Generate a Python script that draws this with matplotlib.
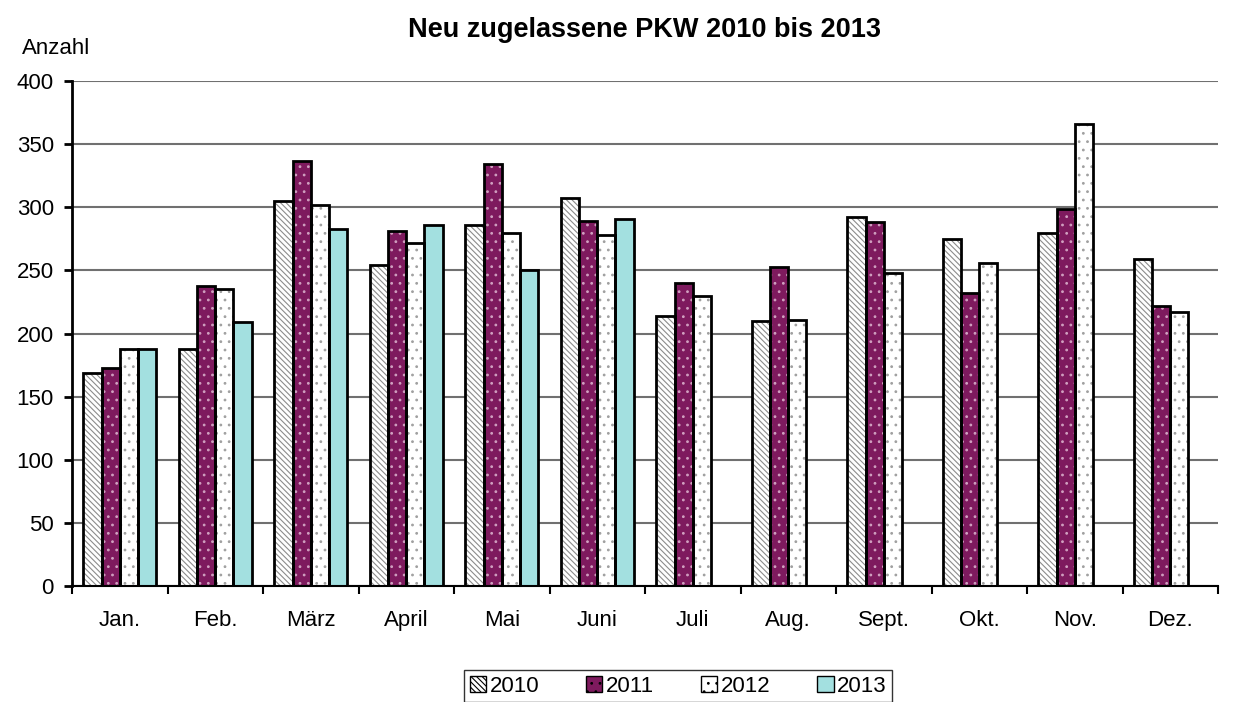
import numpy as np
import matplotlib
matplotlib.use("Agg")
import matplotlib.pyplot as plt
from matplotlib.patches import Patch
from matplotlib.ticker import FixedLocator, NullFormatter

plt.rcParams["font.family"] = ["Liberation Sans", "DejaVu Sans"]
plt.rcParams["hatch.linewidth"] = 0.8

months = ["Jan.", "Feb.", "März", "April", "Mai", "Juni", "Juli", "Aug.", "Sept.", "Okt.", "Nov.", "Dez."]
years = ["2010", "2011", "2012", "2013"]

pkw_2010 = [169, 188, 305, 254, 286, 307, 214, 210, 292, 275, 280, 259]
pkw_2011 = [173, 238, 337, 281, 334, 289, 240, 253, 288, 232, 299, 222]
pkw_2012 = [188, 235, 302, 272, 280, 278, 230, 211, 248, 256, 366, 217]
pkw_2013 = [188, 209, 283, 286, 250, 291]

series = [pkw_2010, pkw_2011, pkw_2012, pkw_2013]
faces = ["white", "#7E1A5E", "white", "#A3E0E0"]
hatches = ["\\\\\\\\\\\\", "..", "..", None]
hatch_cols = ["#8C8C8C", "#D0A0C0", "#A0A0A0", "#A3E0E0"]

fig = plt.figure(figsize=(12.59, 7.02), dpi=100)
ax = fig.add_axes([72 / 1259, 1 - 586 / 702, (1218 - 72) / 1259, (586 - 81) / 702])

x = np.arange(len(months))
width = 0.19
offsets = (np.arange(4) - 1.5) * width

for vals, off, fc, h, hc in zip(series, offsets, faces, hatches, hatch_cols):
    xs = x[:len(vals)] + off
    ax.bar(xs, vals, width, color=fc, hatch=h, edgecolor=hc, linewidth=0, zorder=2)
    ax.bar(xs, vals, width, fill=False, edgecolor="black", linewidth=2, zorder=3)

ax.set_xlim(-0.5, len(months) - 0.5)
ax.set_ylim(0, 400)
ax.set_yticks(np.arange(0, 401, 50))
ax.yaxis.grid(True, color="#707070", linewidth=1.5, zorder=0)
ax.set_axisbelow(True)

ax.set_xticks(x)
ax.set_xticklabels(months)
ax.xaxis.set_minor_locator(FixedLocator(np.arange(-0.5, len(months), 1)))
ax.xaxis.set_minor_formatter(NullFormatter())
ax.tick_params(axis="x", which="major", length=0, pad=17, labelsize=16)
ax.tick_params(axis="x", which="minor", length=6, width=1.5, direction="out")
ax.tick_params(axis="y", length=6, width=2, pad=7, labelsize=16)

for s in ["top", "right"]:
    ax.spines[s].set_visible(False)
ax.spines["left"].set_linewidth(2)
ax.spines["bottom"].set_linewidth(1.5)

fig.text(645 / 1259, 1 - 30 / 702, "Neu zugelassene PKW 2010 bis 2013", fontsize=19.5,
         fontweight="bold", ha="center", va="center")
fig.text(22 / 1259, 1 - 48 / 702, "Anzahl", fontsize=16, va="center", ha="left")

handles = [Patch(facecolor=fc, hatch=h, edgecolor="black", linewidth=1)
           for fc, h in zip(faces, hatches)]
leg = fig.legend(handles, years, loc="center", bbox_to_anchor=(678 / 1259, 1 - 686 / 702), ncol=4,
                 fontsize=16, frameon=True, fancybox=False, handlelength=0.75, handleheight=0.75,
                 handletextpad=0.15, columnspacing=2.1, borderpad=0.25)
leg.get_frame().set_edgecolor("black")
leg.get_frame().set_linewidth(1)

plt.savefig("out.png", dpi=100)
plt.close()
